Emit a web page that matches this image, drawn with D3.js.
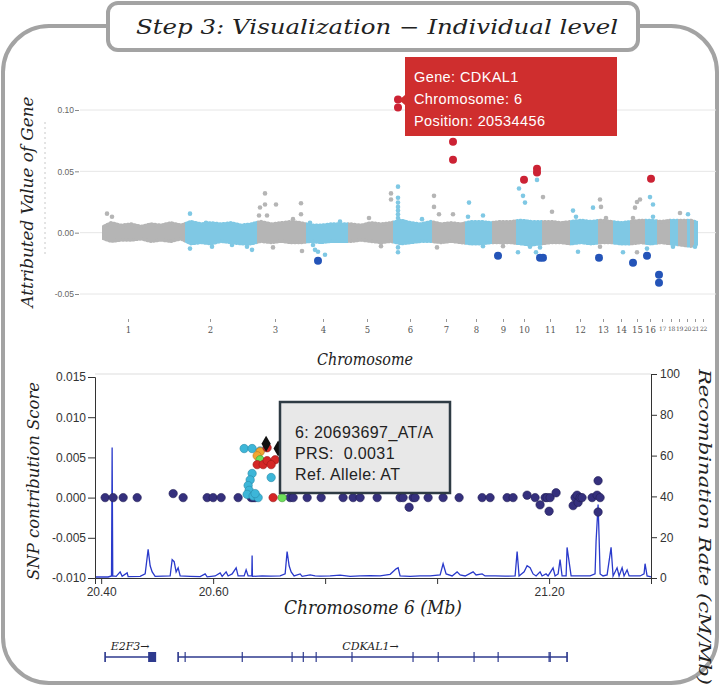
<!DOCTYPE html>
<html lang="en">
<head>
<meta charset="utf-8">
<script src="https://cdn.jsdelivr.net/npm/d3@7"></script>
<style>
body { margin: 0; background: #fff; }
.serif { font-family: "DejaVu Serif", serif; font-style: italic; fill: #222; }
.sans { font-family: "Liberation Sans", Arial, sans-serif; white-space: pre; }
.tiny text { font-family: "Liberation Sans", Arial, sans-serif; font-size: 8.5px; fill: #666; }
.tiny line { stroke: #888; }
.chr text { font-family: "DejaVu Serif", serif; font-size: 8.5px; fill: #555; }
.chr line { stroke: #999; }
.ax text { font-family: "Liberation Sans", Arial, sans-serif; font-size: 12px; fill: #333; }
.ax line, .ax path { stroke: #333; }
</style>
</head>
<body>
<div id="chart"></div>
<script>
var W = 721, H = 688;

// ===== top panel: attributed value per gene =====
var chromLabels = ["1","2","3","4","5","6","7","8","9","10","11","12","13","14","15","16","17","18","19","20","21","22"];
var chromStarts = [1, 84, 156, 205, 247, 292, 331, 364, 391, 415, 441, 469, 497, 512, 529, 544, 556, 569, 577, 586, 589, 593];
var chromEnd = 597;
var chromTickPos = [27, 109, 174, 222, 266, 309, 345, 375, 402, 423, 449, 479, 502, 520, 536, 549, 561, 570, 578, 586, 594, 602];

// dense core of the cloud (x1e-3)
var envPos = [0,10,20,30,40,50,60,70,80,90,100,110,120,130,140,150,160,170,180,190,200,210,220,230,240,250,260,270,280,290,300,310,320,330,340,350,360,370,380,390,400,410,420,430,440,450,460,470,480,490,500,510,520,530,540,550,560,570,580,590,597];
var envUpper = [4,8,6,7,5,7,6,8,6,9,7,8,7,8,6,7,9,7,8,9,8,6,6,7,7,7,6,8,7,8,10,8,7,9,7,8,7,9,9,8,9,9,10,9,9,9,8,9,10,9,10,9,8,9,10,10,9,10,10,10,8];
var envLower = [-4,-7,-6,-6,-5,-7,-6,-7,-5,-9,-8,-9,-7,-8,-9,-9,-7,-8,-7,-8,-8,-7,-8,-7,-7,-7,-6,-7,-8,-7,-9,-8,-7,-7,-8,-7,-8,-9,-9,-8,-8,-8,-9,-10,-9,-8,-8,-9,-8,-9,-8,-8,-9,-9,-8,-9,-8,-9,-10,-11,-9];

// scattered genes outside the core
var geneDots = [
  [6,0.0155],[11,0.013],[89,0.0155],[105,0.008],[111,-0.0114],[89,-0.013],[131,-0.010],[151,-0.014],[146,-0.0114],
  [164,0.032],[159,0.0205],[164,0.023],[166,0.014],[175,0.023],[158,0.014],[200,0.024],[200,0.015],[192,0.011],[172,-0.012],[201,-0.015],
  [209,0.008],[239,0.009],[212,-0.010],[214,-0.014],[217,-0.0155],[224,-0.018],
  [290,0.032],[290,0.027],[268,0.012],[280,-0.011],
  [297,0.0375],[297,0.0285],[297,0.0245],[297,0.021],[297,0.018],[297,0.015],[297,0.012],[297,-0.012],[297,-0.016],[321,0.011],
  [333,0.030],[333,0.021],[338,0.015],[352,0.015],[336,-0.012],
  [368,0.0245],[367,0.013],[382,0.014],[382,-0.011],[402,-0.011],
  [418,0.036],[422,0.030],[424,0.0245],[436,0.043],[435,-0.016],[429,-0.0114],[417,-0.016],
  [442,0.029],[451,0.017],[439,-0.012],
  [472,0.018],[475,0.013],[477,-0.0155],[492,0.0204],
  [499,0.027],[500,0.021],[505,0.012],[499,-0.0115],[522,-0.016],
  [536,0.025],[539,0.027],[534,0.0204],[532,0.012],[536,-0.016],
  [549,0.029],[552,0.023],[552,0.013],[546,-0.013],
  [572,-0.0115],[579,0.016],[587,0.015],[594,-0.0115]
];
var hiUp = [[297,0.1085],[297,0.102],[352,0.0742],[352,0.0595],[423,0.0432],[436,0.0522],[436,0.049],[550,0.044]];
var hiDown = [[217,-0.0228],[397,-0.0188],[439,-0.0204],[442,-0.0204],[498,-0.0204],[532,-0.0245],[546,-0.0188],[558,-0.0343],[558,-0.0408]];
var mhYTicks = [-0.05, 0, 0.05, 0.10];
var geneTip = ["Gene: CDKAL1", "Chromosome: 6", "Position: 20534456"];

// ===== bottom panel: SNPs around CDKAL1 =====
var snpNavy = [
  [20.4071,0],[20.4214,0],[20.4393,0],[20.4643,0],[20.5286,0.0005],[20.5464,0],[20.5893,0],[20.6,0],[20.6143,0],
  [20.6446,0],[20.6679,0],[20.6714,0],[20.675,0],[20.7375,0],[20.7429,0],[20.7679,0],[20.7929,0],[20.8321,0],
  [20.85,0],[20.8625,0],[20.8929,0],[20.9339,0],[20.9393,0],[20.95,-0.0012],[20.9571,0],[20.9607,0],[20.9839,0],
  [21.0107,0],[21.0393,0],[21.0804,0],[21.0946,0],[21.125,0],[21.1357,0],[21.1607,0.0003],[21.175,0],
  [21.1839,-0.0009],[21.1929,0],[21.1964,0],[21.2,-0.0017],[21.2018,0],[21.2125,0.0006],[21.2429,-0.001],
  [21.2464,0],[21.25,0.0003],[21.2518,-0.0006],[21.2554,0],[21.2589,0],[21.2768,0],[21.2857,0.0003],
  [21.2875,0.0021],[21.2875,-0.0018],[21.2911,0]
];
var snpCyan = [[20.6554,0.0061],[20.6696,0.0061],[20.6839,0.0058],[20.6696,0.0030],[20.6661,0.0022],[20.6625,0.0015],
  [20.6643,0.0009],[20.6607,0.0004],[20.6714,0.0002],[20.6804,0],[20.7036,0.0025],[20.675,0.0005]];
var snpOrange = [[20.6839,0.0057],[20.6786,0.0052]];
var snpGreen = [[20.6839,0.0047],[20.7232,0]];
var snpRed = [[20.6964,0.0062],[20.6786,0.0041],[20.6893,0.0041],[20.6964,0.0046],[20.7107,0.0047],[20.7036,0.0041],[20.7071,0]];
var snpLead = [[20.6946,0.0067],[20.7161,0.0061]];
var snpTip = ["6: 20693697_AT/A", "PRS:  0.0031", "Ref. Allele: AT"];

var recomb = [
  [20.389,0.5],[20.400,0.6],[20.4125,0.5],[20.4185,1],[20.4196,64],[20.4207,1],[20.4268,0.8],[20.4339,3],[20.4375,0.8],
  [20.4464,2.5],[20.4482,0.7],[20.4696,0.8],[20.4786,2],[20.4839,14],[20.4875,6],[20.4911,3],[20.4964,0.8],
  [20.5232,1],[20.5268,9],[20.5304,8],[20.5339,3],[20.5375,5],[20.5411,1],[20.5589,0.8],[20.5768,0.7],[20.5857,2],
  [20.5893,0.6],[20.6036,1],[20.6125,2.5],[20.6161,0.8],[20.6232,3],[20.6268,1],[20.6339,2],[20.6411,5],[20.6446,1],
  [20.6554,1],[20.6589,4],[20.6625,1],[20.6690,1],[20.6696,11],[20.6702,0.8],[20.6875,1],[20.7018,0.9],[20.7196,1],
  [20.7286,2],[20.7321,13],[20.7357,6],[20.7393,3],[20.7446,1],[20.7554,2],[20.7589,0.8],[20.7732,1.5],[20.7821,1],
  [20.7911,0.9],[20.8089,1],[20.8268,1.4],[20.8446,0.8],[20.8625,1],[20.8804,1.2],[20.8982,1],[20.9161,1.8],
  [20.9268,4.5],[20.9304,5],[20.9339,1],[20.9518,0.8],[20.9696,1],[20.9875,1],[21.0054,1.5],[21.0107,7],[21.0161,2],
  [21.0268,1],[21.0357,3],[21.0411,1.5],[21.05,1],[21.0643,3],[21.0696,1.5],[21.0804,2],[21.0857,1],[21.1036,1],
  [21.1214,0.9],[21.1393,1],[21.1429,13],[21.1464,1],[21.1554,3],[21.1607,6],[21.1661,5],[21.1714,2],[21.1768,1],
  [21.1839,3],[21.1875,1],[21.1946,2],[21.1982,1],[21.2071,5],[21.2107,1],[21.2161,2],[21.2196,9],[21.2232,1],
  [21.2304,1],[21.2321,15],[21.2357,8],[21.2393,1],[21.2464,1],[21.2643,1],[21.2732,1],[21.2821,2],[21.2839,18],
  [21.2875,36],[21.2893,20],[21.2911,2],[21.2964,1],[21.3036,1.5],[21.3107,15],[21.3143,1],[21.3214,5],[21.325,1],
  [21.3304,5],[21.3339,1],[21.3393,4],[21.3429,1],[21.3536,1],[21.3625,1],[21.3696,2],[21.3714,7],[21.375,1],[21.382,0.5]
];
var genes = [
  {name: "E2F3", start: 20.4071, end: 20.4964, exons: [20.4071], block: [20.4839, 20.4982]},
  {name: "CDKAL1", start: 20.5375, end: 21.2321,
   exons: [20.5375, 20.550, 20.652, 20.741, 20.761, 20.784, 20.848, 20.957, 21.002, 21.066, 21.109, 21.200, 21.202, 21.2321]}
];
var scoreTicks = [-0.010, -0.005, 0, 0.005, 0.010, 0.015];
var rateTicks = [0, 20, 40, 60, 80, 100];
var mbTicks = [20.4, 20.6, 20.8, 21.0, 21.2];
var mbLabelled = [20.4, 20.6, 21.2];

var svg = d3.select("#chart").append("svg").attr("width", W).attr("height", H);

// ---- frame and title ----
svg.append("rect").attr("x", 3).attr("y", 26).attr("width", 714).attr("height", 657)
  .attr("rx", 46).attr("fill", "none").attr("stroke", "#a3a3a3").attr("stroke-width", 4);
svg.append("rect").attr("x", 108).attr("y", 3).attr("width", 530).attr("height", 47)
  .attr("rx", 10).attr("fill", "#fff").attr("stroke", "#a3a3a3").attr("stroke-width", 4);
svg.append("text").attr("class", "serif").attr("x", 136).attr("y", 34)
  .attr("font-size", 20).attr("textLength", 482).attr("lengthAdjust", "spacingAndGlyphs")
  .text("Step 3: Visualization \u2212 Individual level");

// ---- top panel ----
var mx = d3.scaleLinear().domain([0, chromEnd]).range([101, 698]);
var my = d3.scaleLinear().domain([-0.05, 0.10]).range([294, 110]);
var topG = svg.append("g");

topG.selectAll(".grid").data(mhYTicks).enter().append("line")
  .attr("x1", 80).attr("x2", 716).attr("y1", my).attr("y2", my)
  .attr("stroke", "#e6e6e6").attr("stroke-width", 1);
topG.append("line").attr("x1", 45).attr("x2", 45).attr("y1", 122).attr("y2", 257)
  .attr("stroke", "#c8c8c8").attr("stroke-dasharray", "2,3");

topG.append("g").attr("class", "tiny").attr("transform", "translate(79,0)")
  .call(d3.axisLeft(my).tickValues(mhYTicks).tickSize(4).tickPadding(1).tickFormat(function(d) { return d.toFixed(2); }))
  .call(function(g) { g.select(".domain").remove(); });

topG.append("g").attr("class", "chr").attr("transform", "translate(0,319)")
  .call(d3.axisBottom(mx).tickValues(chromTickPos).tickSize(3).tickPadding(5)
    .tickFormat(function(d, i) { return chromLabels[i]; }))
  .call(function(g) {
    g.select(".domain").remove();
    g.selectAll("text").filter(function(d, i) { return i >= 16; })
      .style("font-size", "6px").style("letter-spacing", "-0.3px");
  });

var env = envPos.map(function(p, i) { return {p: p, hi: envUpper[i] / 1000, lo: envLower[i] / 1000}; });
var area = d3.area().x(function(d) { return mx(d.p); })
  .y0(function(d) { return my(d.lo); }).y1(function(d) { return my(d.hi); });
function chromOf(u) {
  var k = 0;
  chromStarts.forEach(function(s, i) { if (u >= s) k = i; });
  return k;
}
var bandCol = ["#b5b5b5", "#7fc8e4"];
var defs = svg.append("defs");
chromStarts.forEach(function(s, i) {
  var e = i < chromStarts.length - 1 ? chromStarts[i + 1] : chromEnd;
  defs.append("clipPath").attr("id", "chr" + i).append("rect")
    .attr("x", mx(s)).attr("y", 100).attr("width", mx(e) - mx(s)).attr("height", 220);
  topG.append("path").datum(env).attr("d", area).attr("clip-path", "url(#chr" + i + ")")
    .attr("fill", bandCol[i % 2]).attr("stroke", bandCol[i % 2]).attr("stroke-width", 3.5)
    .attr("stroke-dasharray", "1,2.5").attr("stroke-linecap", "round");
});
topG.selectAll(".gd").data(geneDots).enter().append("circle")
  .attr("cx", function(d) { return mx(d[0]); }).attr("cy", function(d) { return my(d[1]); })
  .attr("r", 2.3).attr("fill", function(d) { return bandCol[chromOf(d[0]) % 2]; });
topG.selectAll(".hu").data(hiUp).enter().append("circle")
  .attr("cx", function(d) { return mx(d[0]); }).attr("cy", function(d) { return my(d[1]); })
  .attr("r", 4).attr("fill", "#cc2234");
topG.selectAll(".hd").data(hiDown).enter().append("circle")
  .attr("cx", function(d) { return mx(d[0]); }).attr("cy", function(d) { return my(d[1]); })
  .attr("r", 4).attr("fill", "#2454b8");

svg.append("text").attr("class", "serif").attr("transform", "translate(33,202) rotate(-90)")
  .attr("text-anchor", "middle").attr("font-size", 16).attr("textLength", 211).attr("lengthAdjust", "spacingAndGlyphs")
  .text("Attributed Value of Gene");
svg.append("text").attr("class", "serif").attr("x", 365).attr("y", 365)
  .attr("text-anchor", "middle").attr("font-size", 17).attr("textLength", 96).attr("lengthAdjust", "spacingAndGlyphs")
  .text("Chromosome");

// gene tooltip
var tip = topG.append("g");
tip.append("path").attr("d", "M405,95 L399,100 L405,105 Z").attr("fill", "#cf2e2e");
tip.append("rect").attr("x", 405).attr("y", 57).attr("width", 212).attr("height", 79).attr("fill", "#cf2e2e");
tip.selectAll("text").data(geneTip).enter().append("text").attr("class", "sans")
  .attr("x", 414).attr("y", function(d, i) { return 82 + i * 22; })
  .attr("font-size", 14.5).attr("fill", "#fff").attr("letter-spacing", 0.4).text(String);

// ---- bottom panel ----
var bx = d3.scaleLinear().domain([20.389, 21.382]).range([95, 651]);
var by = d3.scaleLinear().domain([-0.010, 0.015]).range([578, 377]);
var ry = d3.scaleLinear().domain([0, 100]).range([578, 374]);
var bot = svg.append("g");

bot.append("line").attr("x1", 95).attr("x2", 651).attr("y1", 374).attr("y2", 374).attr("stroke", "#ddd");

var rline = d3.line().x(function(d) { return bx(d[0]); }).y(function(d) { return ry(d[1]); });
bot.append("path").datum(recomb).attr("d", rline).attr("fill", "none")
  .attr("stroke", "#2a3acb").attr("stroke-width", 1.3);

bot.append("g").attr("class", "ax").attr("transform", "translate(95,0)")
  .call(d3.axisLeft(by).tickValues(scoreTicks).tickSize(7).tickPadding(2)
    .tickFormat(function(d) { return d.toFixed(3); }));
bot.append("g").attr("class", "ax").attr("transform", "translate(651,0)")
  .call(d3.axisRight(ry).tickValues(rateTicks).tickSize(6).tickPadding(3));
bot.append("g").attr("class", "ax").attr("transform", "translate(0,578)")
  .call(d3.axisBottom(bx).tickValues(mbTicks).tickSize(6).tickPadding(3)
    .tickFormat(function(d) { return mbLabelled.indexOf(d) >= 0 ? d.toFixed(2) : ""; }));

function dots(data, fill, stroke) {
  bot.append("g").selectAll("circle").data(data).enter().append("circle")
    .attr("cx", function(d) { return bx(d[0]); }).attr("cy", function(d) { return by(d[1]); })
    .attr("r", 4.2).attr("fill", fill).attr("stroke", stroke).attr("stroke-width", 0.6);
}
dots(snpNavy, "#35307d", "#221f55");
dots(snpCyan, "#3db6d8", "#2a8aa8");
dots(snpOrange, "#f2a532", "#b87a1e");
dots(snpGreen, "#6ee05a", "#3e9a32");
dots(snpRed, "#d42626", "#9a1a1a");
bot.append("g").selectAll("path").data(snpLead).enter().append("path")
  .attr("transform", function(d) { return "translate(" + bx(d[0]) + "," + by(d[1]) + ")"; })
  .attr("d", d3.symbol().type(d3.symbolDiamond).size(75)).attr("fill", "#111");

var tip2 = bot.append("g");
tip2.append("rect").attr("x", 280).attr("y", 402).attr("width", 170).attr("height", 91)
  .attr("fill", "#e8e8e8").attr("stroke", "#2e3b44").attr("stroke-width", 2.5);
tip2.selectAll("text").data(snpTip).enter().append("text").attr("class", "sans")
  .attr("x", 295).attr("y", function(d, i) { return 438 + i * 21; })
  .attr("font-size", 16).attr("letter-spacing", 0.4).attr("fill", "#222").text(String);

svg.append("text").attr("class", "serif").attr("transform", "translate(39,481) rotate(-90)")
  .attr("text-anchor", "middle").attr("font-size", 16).attr("textLength", 198).attr("lengthAdjust", "spacingAndGlyphs")
  .text("SNP contribution Score");
svg.append("text").attr("class", "serif").attr("transform", "translate(699,527) rotate(90)")
  .attr("text-anchor", "middle").attr("font-size", 16.5).attr("textLength", 316).attr("lengthAdjust", "spacingAndGlyphs")
  .text("Recombination Rate (cM/Mb)");
svg.append("text").attr("class", "serif").attr("x", 373).attr("y", 614)
  .attr("text-anchor", "middle").attr("font-size", 19).attr("textLength", 178).attr("lengthAdjust", "spacingAndGlyphs")
  .text("Chromosome 6 (Mb)");

// ---- gene track ----
var gy = 657, gcol = "#2e3a8e";
var gt = svg.append("g");
genes.forEach(function(g) {
  gt.append("line").attr("x1", bx(g.start)).attr("x2", bx(g.end)).attr("y1", gy).attr("y2", gy)
    .attr("stroke", gcol).attr("stroke-width", 1.6);
  [g.start, g.end].concat(g.exons).forEach(function(e) {
    gt.append("line").attr("x1", bx(e)).attr("x2", bx(e)).attr("y1", gy - 5).attr("y2", gy + 5)
      .attr("stroke", gcol).attr("stroke-width", 1.2);
  });
  if (g.block) {
    gt.append("rect").attr("x", bx(g.block[0])).attr("y", gy - 5)
      .attr("width", bx(g.block[1]) - bx(g.block[0])).attr("height", 10).attr("fill", gcol);
  }
  gt.append("text").attr("class", "serif").attr("x", (bx(g.start) + bx(g.end)) / 2 + (g.name === "E2F3" ? 0 : -2))
    .attr("y", 650).attr("text-anchor", "middle").attr("font-size", 11)
    .text(g.name + "\u2192");
});
</script>
</body>
</html>
